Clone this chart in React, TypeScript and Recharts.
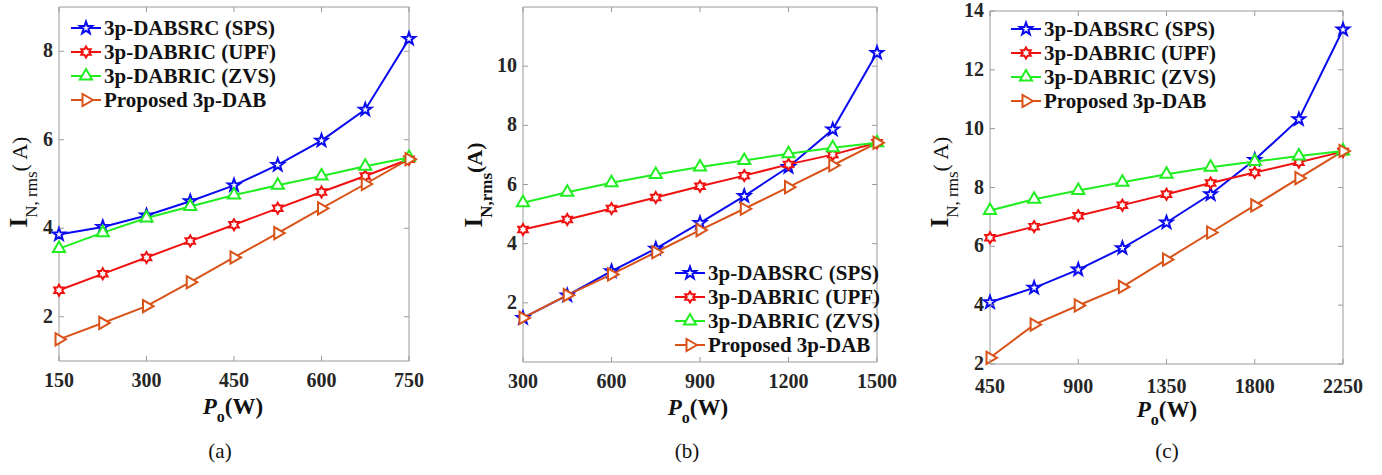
import { LineChart, Line, XAxis, YAxis, ReferenceLine, Legend } from 'recharts'

const FONT = "'Liberation Serif', 'Times New Roman', serif"
const AXIS = '#9a9a9a'

// (a) 150–750 W
const powerA = [150, 225, 300, 375, 450, 525, 600, 675, 750]
const spsA = [3.86, 4.03, 4.29, 4.61, 4.97, 5.43, 5.98, 6.68, 8.28]
const upfA = [2.6, 2.97, 3.34, 3.71, 4.08, 4.45, 4.82, 5.18, 5.56]
const zvsA = [3.54, 3.9, 4.23, 4.49, 4.75, 4.97, 5.18, 5.4, 5.6]
const propA = [1.49, 1.86, 2.24, 2.78, 3.34, 3.89, 4.45, 5.0, 5.56]
const xTicksA = [150, 300, 450, 600, 750]
const yTicksA = [2, 4, 6, 8]

// (b) 300–1500 W
const powerB = [300, 450, 600, 750, 900, 1050, 1200, 1350, 1500]
const spsB = [1.49, 2.25, 3.07, 3.83, 4.7, 5.61, 6.59, 7.86, 10.45]
const upfB = [4.48, 4.82, 5.19, 5.56, 5.94, 6.3, 6.68, 7.01, 7.41]
const zvsB = [5.38, 5.74, 6.06, 6.34, 6.59, 6.81, 7.04, 7.24, 7.41]
const propB = [1.49, 2.26, 2.96, 3.71, 4.46, 5.18, 5.91, 6.65, 7.41]
const xTicksB = [300, 600, 900, 1200, 1500]
const yTicksB = [2, 4, 6, 8, 10]

// (c) 450–2250 W
const powerC = [450, 675, 900, 1125, 1350, 1575, 1800, 2025, 2250]
const spsC = [4.1, 4.59, 5.21, 5.94, 6.81, 7.77, 8.94, 10.32, 13.37]
const upfC = [6.29, 6.67, 7.04, 7.4, 7.77, 8.15, 8.51, 8.86, 9.22]
const zvsC = [7.22, 7.6, 7.9, 8.18, 8.45, 8.69, 8.88, 9.07, 9.24]
const propC = [2.21, 3.34, 3.99, 4.62, 5.55, 6.47, 7.39, 8.32, 9.24]
const xTicksC = [450, 900, 1350, 1800, 2250]
const yTicksC = [2, 4, 6, 8, 10, 12, 14]

const seriesNames = ['3p-DABSRC (SPS)', '3p-DABRIC (UPF)', '3p-DABRIC (ZVS)', 'Proposed 3p-DAB']

const SERIES = [
  { key: 'sps', color: '#0a0af0', marker: 'pentagram' },
  { key: 'upf', color: '#f01010', marker: 'hexagram' },
  { key: 'zvs', color: '#20ee20', marker: 'triUp' },
  { key: 'prop', color: '#d95319', marker: 'triRight' },
]

function starPath(cx: number, cy: number, n: number, R: number, r: number) {
  let d = ''
  for (let i = 0; i < n * 2; i++) {
    const a = -Math.PI / 2 + (i * Math.PI) / n
    const rad = i % 2 === 0 ? R : r
    d += (i === 0 ? 'M' : 'L') + (cx + rad * Math.cos(a)).toFixed(2) + ',' + (cy + rad * Math.sin(a)).toFixed(2)
  }
  return d + 'Z'
}

function markerPath(kind: string, cx: number, cy: number) {
  if (kind === 'pentagram') return starPath(cx, cy, 5, 6.5, 2.6)
  if (kind === 'hexagram') return starPath(cx, cy, 6, 5.5, 3.2)
  const R = 7
  if (kind === 'triUp') {
    return `M${cx},${cy - R}L${cx + 0.87 * R},${cy + 0.5 * R}L${cx - 0.87 * R},${cy + 0.5 * R}Z`
  }
  return `M${cx + R},${cy}L${cx - 0.5 * R},${cy - 0.87 * R}L${cx - 0.5 * R},${cy + 0.87 * R}Z`
}

function buildRows(p: number[], sps: number[], upf: number[], zvs: number[], prop: number[]) {
  return p.map((v, i) => ({ p: v, sps: sps[i], upf: upf[i], zvs: zvs[i], prop: prop[i] }))
}

interface PanelProps {
  left: number
  width: number
  plot: { l: number; r: number; t: number; b: number }
  rows: any[]
  xDomain: [number, number]
  xTicks: number[]
  yDomain: [number, number]
  yTicks: number[]
  legend: { left: number; top: number }
  yLabel: { x: number; y: number; sub: string; unit: string; boldUnit: boolean }
  xLabelX: number
  xTickDy?: number
  caption: string
  captionX: number
}

const Y_AXIS_W = 30
const X_AXIS_H = 30

function Panel(props: PanelProps) {
  const { left, width, plot, rows, xDomain, xTicks, yDomain, yTicks, legend, yLabel, xLabelX, caption, captionX } = props
  const xTickDy = props.xTickDy ?? 26
  const height = 475

  // inward ticks on both sides, like a boxed matlab axes
  const XTick = (t: any) => (
    <g>
      <line x1={t.x} x2={t.x} y1={plot.b} y2={plot.b - 5} stroke={AXIS} />
      <line x1={t.x} x2={t.x} y1={plot.t} y2={plot.t + 5} stroke={AXIS} />
      <text x={t.x} y={plot.b + xTickDy} textAnchor="middle" fontFamily={FONT} fontWeight="bold" fontSize={20} fill="#262626">
        {t.payload.value}
      </text>
    </g>
  )

  const YTick = (t: any) => (
    <g>
      <line x1={plot.l} x2={plot.l + 5} y1={t.y} y2={t.y} stroke={AXIS} />
      <line x1={plot.r} x2={plot.r - 5} y1={t.y} y2={t.y} stroke={AXIS} />
      <text x={plot.l - 6} y={t.y + 6} textAnchor="end" fontFamily={FONT} fontWeight="bold" fontSize={20} fill="#262626">
        {t.payload.value}
      </text>
    </g>
  )

  const renderYLabel = () => (
    <text transform={`translate(${yLabel.x},${yLabel.y}) rotate(-90)`} textAnchor="middle" fontFamily={FONT} fill="#111">
      <tspan fontWeight="bold" fontSize={25}>I</tspan>
      <tspan fontSize={17} dy={10} fontWeight={yLabel.boldUnit ? 'bold' : 'normal'}>{yLabel.sub}</tspan>
      <tspan fontSize={22} dy={-10} fontWeight={yLabel.boldUnit ? 'bold' : 'normal'}>{yLabel.unit}</tspan>
    </text>
  )

  const renderXLabel = () => (
    <g>
      <text x={xLabelX} y={plot.b + 53} textAnchor="middle" fontFamily={FONT} fontWeight="bold" fill="#111">
        <tspan fontStyle="italic" fontSize={23}>P</tspan>
        <tspan fontSize={16} dy={8}>o</tspan>
        <tspan fontSize={23} dy={-8}>(W)</tspan>
      </text>
      <text x={captionX} y={458} textAnchor="middle" fontFamily={FONT} fontSize={21} fill="#111">
        {caption}
      </text>
    </g>
  )

  return (
    <div style={{ position: 'absolute', left, top: 0, width, height }}>
      <LineChart
        width={width}
        height={height}
        data={rows}
        margin={{ top: plot.t, right: width - plot.r, bottom: height - plot.b - X_AXIS_H, left: plot.l - Y_AXIS_W }}
      >
        <XAxis
          type="number"
          dataKey="p"
          domain={xDomain}
          ticks={xTicks}
          height={X_AXIS_H}
          tickLine={false}
          axisLine={{ stroke: AXIS }}
          tick={XTick}
          label={renderXLabel}
        />
        <YAxis
          type="number"
          domain={yDomain}
          ticks={yTicks}
          width={Y_AXIS_W}
          tickLine={false}
          axisLine={{ stroke: AXIS }}
          tick={YTick}
          label={renderYLabel}
        />
        <ReferenceLine y={yDomain[1]} stroke={AXIS} />
        <ReferenceLine x={xDomain[1]} stroke={AXIS} />
        {SERIES.map((s, si) => (
          <Line
            key={s.key}
            dataKey={s.key}
            name={seriesNames[si]}
            stroke={s.color}
            strokeWidth={2}
            isAnimationActive={false}
            dot={(d: any) => (
              <path
                key={`${s.key}-${d.index}`}
                d={markerPath(s.marker, d.cx, d.cy)}
                fill="#fff"
                stroke={s.color}
                strokeWidth={2}
              />
            )}
          />
        ))}
        <Legend
          layout="vertical"
          align="center"
          verticalAlign="middle"
          wrapperStyle={{ left: legend.left, top: legend.top, width: 'auto', height: 'auto' }}
          content={() => (
            <div style={{ fontFamily: FONT, fontWeight: 'bold', fontSize: 21, color: '#111' }}>
              {SERIES.map((s, si) => (
                <div key={s.key} style={{ display: 'flex', alignItems: 'center', height: 24, whiteSpace: 'nowrap' }}>
                  <svg width={30} height={24} style={{ display: 'block' }}>
                    <line x1={0} x2={30} y1={12} y2={12} stroke={s.color} strokeWidth={2} />
                    <path d={markerPath(s.marker, 15, 12)} fill="#fff" stroke={s.color} strokeWidth={2} />
                  </svg>
                  <span style={{ marginLeft: 3 }}>{seriesNames[si]}</span>
                </div>
              ))}
            </div>
          )}
        />
      </LineChart>
    </div>
  )
}

export default function App() {
  return (
    <div style={{ position: 'absolute', left: 0, top: 0, width: 1382, height: 475, background: '#fff' }}>
      <Panel
        left={0}
        width={460}
        plot={{ l: 59, r: 409, t: 7, b: 361 }}
        rows={buildRows(powerA, spsA, upfA, zvsA, propA)}
        xDomain={[150, 750]}
        xTicks={xTicksA}
        yDomain={[1, 9]}
        yTicks={yTicksA}
        legend={{ left: 71, top: 16 }}
        yLabel={{ x: 27, y: 182, sub: 'N, rms', unit: '( A)', boldUnit: false }}
        xLabelX={233}
        caption="(a)"
        captionX={220}
      />
      <Panel
        left={460}
        width={460}
        plot={{ l: 63, r: 417, t: 7, b: 362 }}
        rows={buildRows(powerB, spsB, upfB, zvsB, propB)}
        xDomain={[300, 1500]}
        xTicks={xTicksB}
        yDomain={[0, 12]}
        yTicks={yTicksB}
        legend={{ left: 215, top: 261 }}
        yLabel={{ x: 22, y: 185, sub: 'N,rms', unit: '(A)', boldUnit: true }}
        xLabelX={238}
        caption="(b)"
        captionX={227}
      />
      <Panel
        left={920}
        width={462}
        plot={{ l: 70, r: 423, t: 11, b: 364 }}
        rows={buildRows(powerC, spsC, upfC, zvsC, propC)}
        xDomain={[450, 2250]}
        xTicks={xTicksC}
        yDomain={[2, 14]}
        yTicks={yTicksC}
        legend={{ left: 91, top: 17 }}
        yLabel={{ x: 28, y: 182, sub: 'N, rms', unit: '( A)', boldUnit: false }}
        xLabelX={247}
        xTickDy={29}
        caption="(c)"
        captionX={247}
      />
    </div>
  )
}
